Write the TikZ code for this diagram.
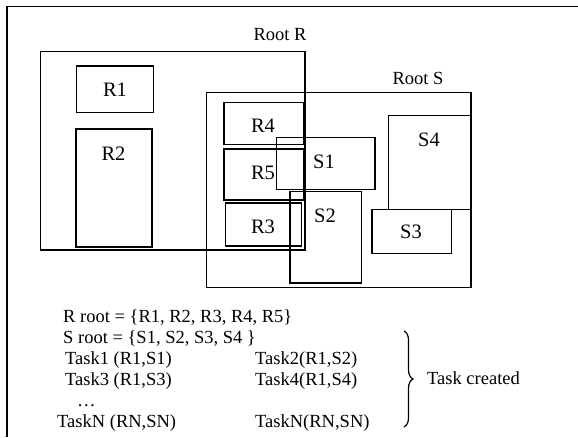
\documentclass[tikz,border=0pt]{standalone}
\usepackage{fontspec}
\setmainfont{Liberation Serif}
\usetikzlibrary{decorations.pathreplacing}

\begin{document}
\begin{tikzpicture}[x=1pt, y=-1pt,
  box/.style={draw, line width=1.3pt, inner sep=0pt},
  heavy box/.style={box, line width=1.7pt},
  lbl/.style={inner sep=0pt, font=\fontsize{20.5}{24}\selectfont},
  txt/.style={inner sep=0pt, anchor=base west, font=\fontsize{18.5}{21}\selectfont}]
\useasboundingbox (0,0) rectangle (578,437);
\coordinate (fb) at (7,437);
\coordinate (fc) at (7,6.7);
\coordinate (fr) at (578,6.7);
\draw[line width=1.4pt] (fb) -- (fc) -- (fr);

\node[box, line width=1.2pt, minimum width=264.5pt, minimum height=198.3pt] (rootR) at (172.75,150.85) {};
\node[txt, anchor=center] (rootRt) at (280,35) {Root R};
\node[box, minimum width=76.6pt, minimum height=46.7pt] (r1) at (115,89.35) {};
\node[lbl] (r1t) at (115,89.3) {R1};
\node[heavy box, minimum width=76.2pt, minimum height=118pt] (r2) at (113.9,187.7) {};
\node[lbl] (r2t) at (113.5,153.3) {R2};

\node[box, line width=1.2pt, minimum width=264.5pt, minimum height=195pt] (rootS) at (338.75,190) {};
\node[txt, anchor=center] (rootSt) at (418,78.3) {Root S};
\node[box, minimum width=80pt, minimum height=41.6pt] (r4) at (264,123.5) {};
\node[lbl] (r4t) at (263,125.7) {R4};
\node[heavy box, minimum width=80pt, minimum height=50.7pt] (r5) at (264,174.65) {};
\node[lbl] (r5t) at (263,173.3) {R5};
\node[box, minimum width=76pt, minimum height=43pt] (r3) at (263.5,224.5) {};
\node[lbl] (r3t) at (263,226.7) {R3};

\node[box, minimum width=98.4pt, minimum height=51.8pt] (s1) at (325.8,163.4) {};
\node[lbl] (s1t) at (324,162.3) {S1};
\node[heavy box, minimum width=71.6pt, minimum height=91.8pt] (s2) at (325.8,237.4) {};
\node[lbl] (s2t) at (325,216) {S2};
\node[box, minimum width=82.2pt, minimum height=93.6pt] (s4) at (429.6,162.5) {};
\node[lbl] (s4t) at (429,140) {S4};
\node[box, minimum width=79.5pt, minimum height=43.8pt] (s3) at (411.75,231.4) {};
\node[lbl] (s3t) at (411,232.3) {S3};

\node[txt] (rset) at (63,322) {R root = \{R1, R2, R3, R4, R5\}};
\node[txt] (sset) at (63,343) {S root = \{S1, S2, S3, S4 \}};
\node[txt] (task1) at (65,364) {Task1 (R1,S1)};
\node[txt] (task2) at (255,364) {Task2(R1,S2)};
\node[txt] (task3) at (65,385) {Task3 (R1,S3)};
\node[txt] (task4) at (255,385) {Task4(R1,S4)};
\node[txt] (dots) at (77,406) {\ldots};
\node[txt] (taskN) at (57,427) {TaskN (RN,SN)};
\node[txt] (taskNb) at (255,427) {TaskN(RN,SN)};

\coordinate (bt) at (404,331);
\coordinate (bb) at (404,427);
\draw[decorate, decoration={brace, amplitude=9pt}, line width=1.2pt] (bt) -- (bb);
\node[txt] (created) at (427,384) {Task created};
\end{tikzpicture}
\end{document}
